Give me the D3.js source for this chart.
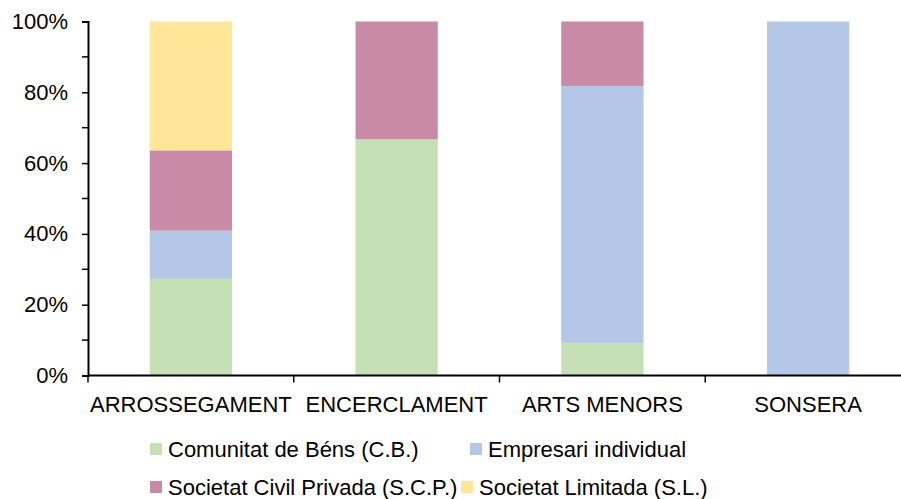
<!DOCTYPE html>
<html>
<head>
<meta charset="utf-8">
<script src="https://cdn.jsdelivr.net/npm/d3@7"></script>
<style>
  body { margin: 0; background: #fff; }
  svg { display: block; font-family: "Liberation Sans", Arial, sans-serif; }
</style>
</head>
<body>
<div id="chart"></div>
<script>
const categories = ['ARROSSEGAMENT', 'ENCERCLAMENT', 'ARTS MENORS', 'SONSERA'];
const seriesNames = ['Comunitat de Béns (C.B.)', 'Empresari individual', 'Societat Civil Privada (S.C.P.)', 'Societat Limitada (S.L.)'];
const seriesColors = ['#c5e0b4', '#b4c7e7', '#c98aa7', '#ffe699'];
// percentages per category, in series order
const cbValues = [27.3, 66.7, 9.1, 0];
const empresariValues = [13.6, 0, 72.7, 100];
const scpValues = [22.7, 33.3, 18.2, 0];
const slValues = [36.4, 0, 0, 0];
const yTicks = [0, 20, 40, 60, 80, 100];
const yMinorTicks = [10, 30, 50, 70, 90];

const width = 901, height = 499;
const margin = { top: 21.5, left: 88, bottom: 123.5 };
const plotRight = 911;
const fontSize = 22;

const svg = d3.select('#chart').append('svg')
    .attr('width', width)
    .attr('height', height);

const x = d3.scaleBand()
    .domain(categories)
    .range([margin.left, plotRight])
    .paddingInner(0.6)
    .paddingOuter(0.3);

const y = d3.scaleLinear()
    .domain([0, 100])
    .range([height - margin.bottom, margin.top]);

const rows = categories.map((c, i) => ({
    cat: c,
    s0: cbValues[i], s1: empresariValues[i], s2: scpValues[i], s3: slValues[i]
}));
const layers = d3.stack().keys(['s0', 's1', 's2', 's3'])(rows);

svg.append('g')
    .selectAll('g')
    .data(layers)
    .enter().append('g')
    .attr('fill', (d, i) => seriesColors[i])
    .selectAll('rect')
    .data(d => d)
    .enter().append('rect')
    .attr('x', d => x(d.data.cat))
    .attr('width', x.bandwidth())
    .attr('y', d => y(d[1]))
    .attr('height', d => y(d[0]) - y(d[1]));

// y axis
const yAxis = svg.append('g')
    .attr('transform', `translate(${margin.left},0)`)
    .call(d3.axisLeft(y).tickValues(yTicks).tickSize(6).tickPadding(14).tickFormat(d => d + '%'));
yAxis.selectAll('text').attr('font-size', fontSize).attr('fill', '#000').attr('font-family', null);
yAxis.select('.domain').attr('stroke', '#000').attr('stroke-width', 2);
yAxis.selectAll('.tick line').attr('stroke', '#000').attr('stroke-width', 1.5);
svg.append('g')
    .selectAll('line')
    .data(yMinorTicks)
    .enter().append('line')
    .attr('x1', margin.left - 6).attr('x2', margin.left)
    .attr('y1', d => y(d)).attr('y2', d => y(d))
    .attr('stroke', '#000').attr('stroke-width', 1.5);

// x axis
const baseY = y(0);
const step = x.step();
svg.append('line')
    .attr('x1', margin.left).attr('x2', plotRight)
    .attr('y1', baseY).attr('y2', baseY)
    .attr('stroke', '#000').attr('stroke-width', 2);
svg.append('g')
    .selectAll('line')
    .data(categories.map(c => x(c) + x.bandwidth() / 2 - step / 2).concat([x(categories[3]) + x.bandwidth() / 2 + step / 2]))
    .enter().append('line')
    .attr('x1', d => d).attr('x2', d => d)
    .attr('y1', baseY).attr('y2', baseY + 7)
    .attr('stroke', '#000').attr('stroke-width', 1.5);
svg.append('g')
    .selectAll('text')
    .data(categories)
    .enter().append('text')
    .attr('x', d => x(d) + x.bandwidth() / 2)
    .attr('y', baseY + 36)
    .attr('text-anchor', 'middle')
    .attr('font-size', fontSize)
    .text(d => d);

// legend
const legendPos = [[150, 449], [470, 449], [150, 487], [461, 487]];
const legend = svg.append('g')
    .selectAll('g')
    .data(seriesNames)
    .enter().append('g')
    .attr('transform', (d, i) => `translate(${legendPos[i][0]},${legendPos[i][1]})`);
legend.append('rect')
    .attr('x', 0).attr('y', -6)
    .attr('width', 12).attr('height', 12)
    .attr('fill', (d, i) => seriesColors[i]);
legend.append('text')
    .attr('x', 18).attr('y', 0)
    .attr('dy', '0.35em')
    .attr('font-size', fontSize)
    .text(d => d);
</script>
</body>
</html>
